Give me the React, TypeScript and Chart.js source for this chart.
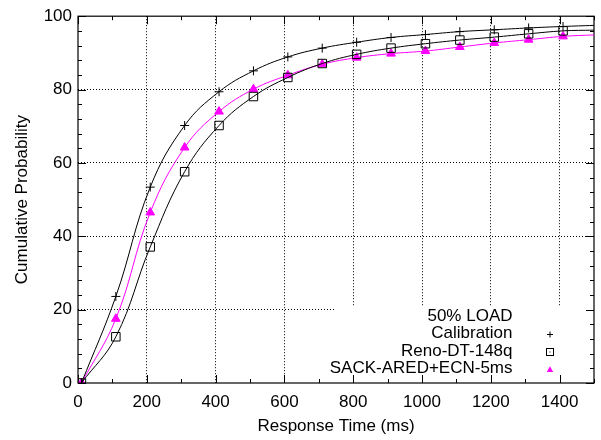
import React, { useEffect, useRef } from "react";
import { Chart, registerables } from "chart.js";

Chart.register(...registerables);

// ---- data ----
const xValues = [10, 110, 210, 310, 410, 510, 610, 710, 810, 910, 1010, 1110, 1210, 1310, 1410];
const xLineEnd = 1500;

const calibration = [0, 23.6, 53.4, 70.2, 79.4, 85.1, 88.9, 91.3, 92.9, 94.2, 95.0, 95.8, 96.3, 96.8, 97.2];
const calibrationEnd = 97.5;

const reno = [0, 12.6, 37.1, 57.6, 70.2, 78.1, 83.3, 87.1, 89.6, 91.3, 92.5, 93.5, 94.3, 95.2, 96.0];
const renoEnd = 96.2;

const sack = [0, 17.5, 46.5, 64.2, 74.0, 80.1, 83.9, 86.9, 88.7, 89.8, 90.5, 91.6, 92.7, 93.6, 94.5];
const sackEnd = 94.9;

const seriesNames = ["Calibration", "Reno-DT-148q", "SACK-ARED+ECN-5ms"];
const legendTitle = "50% LOAD";

const xTicks = [0, 200, 400, 600, 800, 1000, 1200, 1400];
const yTicks = [0, 20, 40, 60, 80, 100];
const xMinorStep = 100;
const yMinorStep = 4;

const xTitle = "Response Time (ms)";
const yTitle = "Cumulative Probability";

const FONT = "'Liberation Sans', Arial, Helvetica, sans-serif";
const MAGENTA = "#ff00ff";

function toPoints(ys: number[], end: number) {
  const pts = xValues.map((x, i) => ({ x, y: ys[i] }));
  pts.push({ x: xLineEnd, y: end });
  return pts;
}

function drawMarker(ctx: CanvasRenderingContext2D, kind: string, x: number, y: number, s: number) {
  ctx.save();
  ctx.lineWidth = 1;
  if (kind === "cross") {
    ctx.strokeStyle = "#000";
    ctx.beginPath();
    ctx.moveTo(x - s, y);
    ctx.lineTo(x + s, y);
    ctx.moveTo(x, y - s);
    ctx.lineTo(x, y + s);
    ctx.stroke();
  } else if (kind === "box") {
    ctx.strokeStyle = "#000";
    ctx.strokeRect(x - s, y - s, 2 * s, 2 * s);
    ctx.fillStyle = "#000";
    ctx.fillRect(x - 0.5, y - 0.5, 1, 1);
  } else {
    ctx.fillStyle = MAGENTA;
    ctx.beginPath();
    ctx.moveTo(x, y - s);
    ctx.lineTo(x + s, y + s * 0.8);
    ctx.lineTo(x - s, y + s * 0.8);
    ctx.closePath();
    ctx.fill();
  }
  ctx.restore();
}

const framePlugin = {
  id: "gnuplotFrame",
  beforeDatasetsDraw(chart: any) {
    const { ctx, chartArea, scales } = chart;
    const { left, right, top, bottom } = chartArea;
    const xs = scales.x;
    const ys = scales.y;
    ctx.save();
    // opaque key box
    ctx.fillStyle = "#fff";
    ctx.fillRect(right - 260, bottom - 76, 260, 76);

    // ticks (inward, mirrored)
    ctx.strokeStyle = "#000";
    ctx.lineWidth = 1;
    ctx.beginPath();
    const major = 8;
    const minor = 4;
    for (let v = xs.min; v <= xs.max; v += xMinorStep) {
      const px = Math.round(xs.getPixelForValue(v)) + 0.5;
      const len = v % 200 === 0 ? major : minor;
      ctx.moveTo(px, bottom);
      ctx.lineTo(px, bottom - len);
      ctx.moveTo(px, top);
      ctx.lineTo(px, top + len);
    }
    for (let v = ys.min; v <= ys.max; v += yMinorStep) {
      const py = Math.round(ys.getPixelForValue(v)) + 0.5;
      const len = v % 20 === 0 ? major : minor;
      ctx.moveTo(left, py);
      ctx.lineTo(left + len, py);
      ctx.moveTo(right, py);
      ctx.lineTo(right - len, py);
    }
    ctx.stroke();

    // frame
    ctx.lineWidth = 1.2;
    ctx.strokeRect(left, top, right - left, bottom - top);
    ctx.restore();
  },
  afterDatasetsDraw(chart: any) {
    const { ctx, chartArea } = chart;
    const { right, bottom } = chartArea;
    ctx.save();
    ctx.font = `17px ${FONT}`;
    ctx.fillStyle = "#000";
    ctx.textAlign = "right";
    ctx.textBaseline = "middle";
    const textX = right - 81.5;
    const rows = [bottom - 67, bottom - 49.5, bottom - 32, bottom - 14.5];
    ctx.fillText(legendTitle, textX, rows[0]);
    const kinds = ["cross", "box", "tri"];
    const sizes = [3, 3.5, 3.2];
    seriesNames.forEach((name, i) => {
      ctx.fillText(name, textX, rows[i + 1]);
      drawMarker(ctx, kinds[i], right - 44, rows[i + 1] + 1, sizes[i]);
    });
    ctx.restore();
  },
};

export default function App() {
  const canvasRef = useRef<HTMLCanvasElement | null>(null);

  useEffect(() => {
    const canvas = canvasRef.current;
    if (!canvas) return;
    const lastIdx = xValues.length;
    const radius = (r: number) => (c: any) => (c.dataIndex < lastIdx ? r : 0);

    const common = {
      borderWidth: 1,
      pointBorderWidth: 1,
      tension: 0.4,
      fill: false,
    };

    const chart = new Chart(canvas, {
      type: "line",
      data: {
        datasets: [
          {
            ...common,
            label: seriesNames[0],
            data: toPoints(calibration, calibrationEnd),
            borderColor: "#000",
            pointStyle: "cross",
            pointRadius: radius(4.5),
            pointBorderColor: "#000",
            pointBackgroundColor: "#000",
          },
          {
            ...common,
            label: seriesNames[1],
            data: toPoints(reno, renoEnd),
            borderColor: "#000",
            pointStyle: "rect",
            pointRadius: radius(6),
            pointBorderColor: "#000",
            pointBackgroundColor: "rgba(0,0,0,0)",
          },
          {
            ...common,
            label: seriesNames[2],
            data: toPoints(sack, sackEnd),
            borderColor: MAGENTA,
            pointStyle: "triangle",
            pointRadius: radius(5),
            pointBorderColor: MAGENTA,
            pointBackgroundColor: MAGENTA,
          },
        ],
      },
      options: {
        responsive: false,
        animation: false,
        events: [],
        layout: { padding: { top: 12, right: 5, bottom: 0, left: 0 } },
        plugins: {
          legend: { display: false },
          tooltip: { enabled: false },
        },
        scales: {
          x: {
            type: "linear",
            min: 0,
            max: 1500,
            afterBuildTicks: (s: any) => {
              s.ticks = xTicks.map((v) => ({ value: v }));
            },
            afterFit: (s: any) => {
              s.height = 57;
            },
            grid: {
              drawTicks: false,
              lineWidth: 1,
              color: (c: any) => (c.tick && c.tick.value === 0 ? "rgba(0,0,0,0)" : "#000"),
            },
            border: { display: false, dash: [1, 2] },
            ticks: {
              autoSkip: false,
              maxRotation: 0,
              padding: 9,
              color: "#000",
              font: { family: FONT, size: 17 },
              callback: (v: any) => String(v),
            },
            title: {
              display: true,
              text: xTitle,
              color: "#000",
              font: { family: FONT, size: 17 },
              padding: { top: 0, bottom: 3 },
            },
          },
          y: {
            type: "linear",
            min: 0,
            max: 100,
            afterBuildTicks: (s: any) => {
              s.ticks = yTicks.map((v) => ({ value: v }));
            },
            afterFit: (s: any) => {
              s.width = 78;
            },
            grid: {
              drawTicks: false,
              lineWidth: 1,
              color: (c: any) =>
                c.tick && (c.tick.value === 0 || c.tick.value === 100) ? "rgba(0,0,0,0)" : "#000",
            },
            border: { display: false, dash: [1, 2] },
            ticks: {
              padding: 6,
              color: "#000",
              font: { family: FONT, size: 17 },
              callback: (v: any) => String(v),
            },
            title: {
              display: true,
              text: yTitle,
              color: "#000",
              font: { family: FONT, size: 17 },
              padding: { top: 12, bottom: 0 },
            },
          },
        },
      },
      plugins: [framePlugin],
    } as any);

    return () => chart.destroy();
  }, []);

  return (
    <div style={{ position: "fixed", left: 0, top: 0, width: 601, height: 440, background: "#fff" }}>
      <canvas ref={canvasRef} width={601} height={440} style={{ display: "block" }} />
    </div>
  );
}
